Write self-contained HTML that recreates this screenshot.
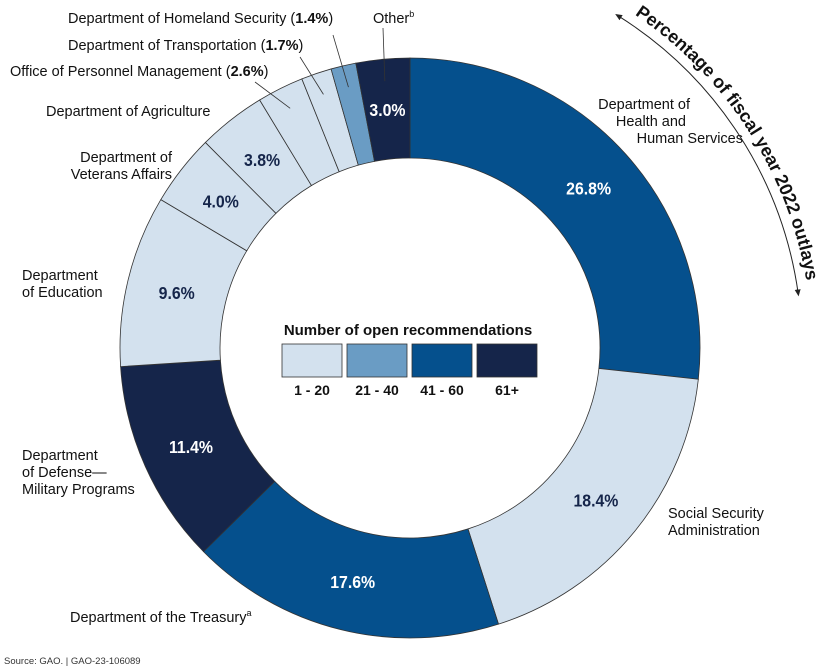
<!DOCTYPE html>
<html><head><meta charset="utf-8"><style>
body{margin:0;background:#fff}
svg{display:block;font-family:"Liberation Sans",Arial,sans-serif}
</style></head><body>
<svg id="chart" width="840" height="670" viewBox="0 0 840 670">
<defs><marker id="ah" markerWidth="8" markerHeight="8" refX="4" refY="4" orient="auto-start-reverse"><path d="M0,1L7,4L0,7z" fill="#222"/></marker></defs>
<g id="slices"></g>
<g id="labels"></g>
</svg>
<script>
const agencies=["HHS","SSA","Treasury","Defense","Education","VA","Agriculture","OPM","DOT","DHS","Other"];
const outlays=[26.8,18.4,17.6,11.4,9.6,4.0,3.8,2.6,1.7,1.4,3.0];
const groups=[2,0,2,3,0,0,0,0,0,1,3];
const pctLabels=["26.8%","18.4%","17.6%","11.4%","9.6%","4.0%","3.8%","","","","3.0%"];
const legendLabels=["1 - 20","21 - 40","41 - 60","61+"];
const colors=["#d3e1ee","#6a9cc4","#05508d","#15254a"];
const NS="http://www.w3.org/2000/svg";
const cx=410,cy=348,R=290,r=190;
const total=outlays.reduce((a,b)=>a+b,0);
function ang(v){return v/total*2*Math.PI;}
function pt(a,rad){return [cx+rad*Math.sin(a),cy-rad*Math.cos(a)];}
function mk(tag,attrs,parent){const e=document.createElementNS(NS,tag);for(const k in attrs)e.setAttribute(k,attrs[k]);parent.appendChild(e);return e;}
const sg=document.getElementById('slices'),lg=document.getElementById('labels'),svg=document.getElementById('chart');
let acc=0;
outlays.forEach((v,i)=>{
  const a0=ang(acc),a1=ang(acc+v);acc+=v;
  const [x0,y0]=pt(a0,R),[x1,y1]=pt(a1,R),[x2,y2]=pt(a1,r),[x3,y3]=pt(a0,r);
  const lf=(a1-a0)>Math.PI?1:0;
  const p=mk('path',{d:`M${x0},${y0}A${R},${R} 0 ${lf} 1 ${x1},${y1}L${x2},${y2}A${r},${r} 0 ${lf} 0 ${x3},${y3}Z`,fill:colors[groups[i]],stroke:'#333','stroke-width':0.8},sg);
  
  
  if(pctLabels[i]){
    const [tx,ty]=pt((a0+a1)/2,(R+r)/2);
    const t=mk('text',{x:tx,y:ty+7,'text-anchor':'middle','font-size':18,'font-weight':'bold',fill:groups[i]===0?'#15254a':'#fff',transform:`translate(${tx},0) scale(0.88,1) translate(${-tx},0)`},lg);
    t.textContent=pctLabels[i];
    
    
  }
});
let acc2=0;const mids=[];outlays.forEach(v=>{mids.push(ang(acc2+v/2));acc2+=v;});
const leaders=[[7,255,82],[8,300,57],[9,333,35],[10,383,28]];
leaders.forEach(([i,lx,ly])=>{const [px,py]=pt(mids[i],R-22);const l=mk('line',{x1:lx,y1:ly,x2:px,y2:py,stroke:'#333','stroke-width':0.8},lg);});
function label(lines,x,y,anchor,name){const t=mk('text',{x:x,y:y,'text-anchor':anchor,'font-size':14.5,fill:'#111'},lg);lines.forEach((s,k)=>{const ts=mk('tspan',{x:x,dy:k?17:0},t);ts.innerHTML=s;});}
label(['Department of Homeland Security (<tspan font-weight="bold">1.4%</tspan>)'],68,23,'start','label-dhs');
label(['Department of Transportation (<tspan font-weight="bold">1.7%</tspan>)'],68,50,'start','label-dot');
label(['Office of Personnel Management (<tspan font-weight="bold">2.6%</tspan>)'],10,76,'start','label-opm');
label(['Other<tspan font-size="9" dy="-6">b</tspan>'],373,23,'start','label-other');
label(['Department of Agriculture'],46,116,'start','label-agriculture');
label(['Department of','Veterans Affairs'],172,162,'end','label-va');
label(['Department','of Education'],22,280,'start','label-education');
label(['Department','of Defense—','Military Programs'],22,460,'start','label-defense');
label(['Department of the Treasury<tspan font-size="9" dy="-6">a</tspan>'],70,622,'start','label-treasury');
label(['Social Security','Administration'],668,518,'start','label-ssa');
label(['Department of'],690,109,'end','label-hhs-1');
label(['Health and'],686,126,'end','label-hhs-2');
label(['Human Services'],743,143,'end','label-hhs-3');
const lt=mk('text',{x:408,y:335,'text-anchor':'middle','font-size':15,'font-weight':'bold',fill:'#111'},lg);lt.textContent='Number of open recommendations';
legendLabels.forEach((s,k)=>{const x=282+k*65;const b=mk('rect',{x:x,y:344,width:60,height:33,fill:colors[k],stroke:'#333','stroke-width':0.8},lg);const t=mk('text',{x:x+30,y:395,'text-anchor':'middle','font-size':14,'font-weight':'bold',fill:'#111'},lg);t.textContent=s;});
function arcPath(rad,d0,d1){const a0=d0*Math.PI/180,a1=d1*Math.PI/180;const [x0,y0]=pt(a0,rad),[x1,y1]=pt(a1,rad);return `M${x0},${y0}A${rad},${rad} 0 0 1 ${x1},${y1}`;}
const arr=mk('path',{d:arcPath(392,32,82),fill:'none',stroke:'#222','stroke-width':1,'marker-start':'url(#ah)','marker-end':'url(#ah)'},lg);
mk('path',{id:'tp',d:arcPath(402,34,90),fill:'none'},lg);
const at=mk('text',{'font-size':18,'font-weight':'bold',fill:'#111'},lg);
const tp=mk('textPath',{href:'#tp'},at);tp.textContent='Percentage of fiscal year 2022 outlays';
const src=mk('text',{x:4,y:664,'font-size':9.5,fill:'#333'},lg);src.textContent='Source: GAO.  |  GAO-23-106089';
</script>
</body></html>
